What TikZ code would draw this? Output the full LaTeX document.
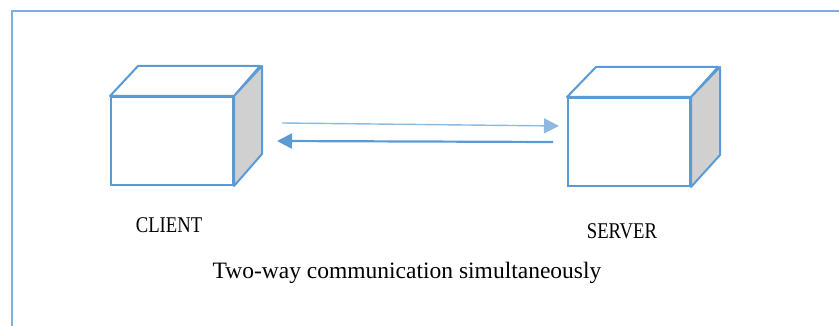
\documentclass[tikz,border=0pt]{standalone}
\usepackage{fontspec}
\setmainfont{Liberation Serif}
\usetikzlibrary{arrows.meta,positioning}
\definecolor{boxblue}{HTML}{5B9BD5}
\definecolor{paleblue}{HTML}{8DB8E2}
\definecolor{framblue}{HTML}{7EAEDE}
\definecolor{sidegray}{HTML}{D0D0D0}
\newcommand{\tallcaps}[1]{\scalebox{0.83}[1]{#1}}
\tikzset{
  front/.style={draw=boxblue,line width=2pt,fill=white,minimum width=122pt,minimum height=88pt,inner sep=0pt},
  cubeline/.style={draw=boxblue,line width=2pt,line join=round},
  label/.style={font=\fontsize{22.5}{24}\selectfont,inner sep=0pt},
}
\begin{document}
\begin{tikzpicture}[x=1pt,y=-1pt]
  \useasboundingbox (0,0) rectangle (839,326);
  % frame
  \draw[framblue,line width=2.4pt] (12,326) -- (12,11) -- (839,11);
  % client box
  \node[front] (client) at (172,141) {};
  \draw[cubeline,fill=white] (client.north west) -- ++(28,-30) -- ++(122,0) -- (client.north east) -- cycle;
  \draw[cubeline,fill=sidegray] (client.north east) -- ++(28,-30) -- ++(0,88) -- (client.south east) -- cycle;
  % server box
  \node[front] (server) at (629,142) {};
  \draw[cubeline,fill=white] (server.north west) -- ++(29,-30) -- ++(122,0) -- (server.north east) -- cycle;
  \draw[cubeline,fill=sidegray] (server.north east) -- ++(29,-30) -- ++(0,88) -- (server.south east) -- cycle;
  % arrows
  \coordinate (c-out) at (282,123);
  \coordinate (s-in) at (559,126);
  \coordinate (s-out) at (553,142);
  \coordinate (c-in) at (277,141);
  \draw[paleblue,line width=1.4pt,-{Triangle[length=15pt,width=15pt]}] (c-out) -- (s-in);
  \draw[boxblue,line width=2.2pt,-{Triangle[length=15pt,width=15pt]}] (s-out) -- (c-in);
  % labels
  \node[label] (clientlbl) at (169,225) {\tallcaps{CLIENT}};
  \node[label] (serverlbl) at (622,231) {\tallcaps{SERVER}};
  \node[font=\fontsize{23.5}{26}\selectfont,inner sep=0pt] (caption) at (407,273) {Two-way communication simultaneously};
\end{tikzpicture}
\end{document}
